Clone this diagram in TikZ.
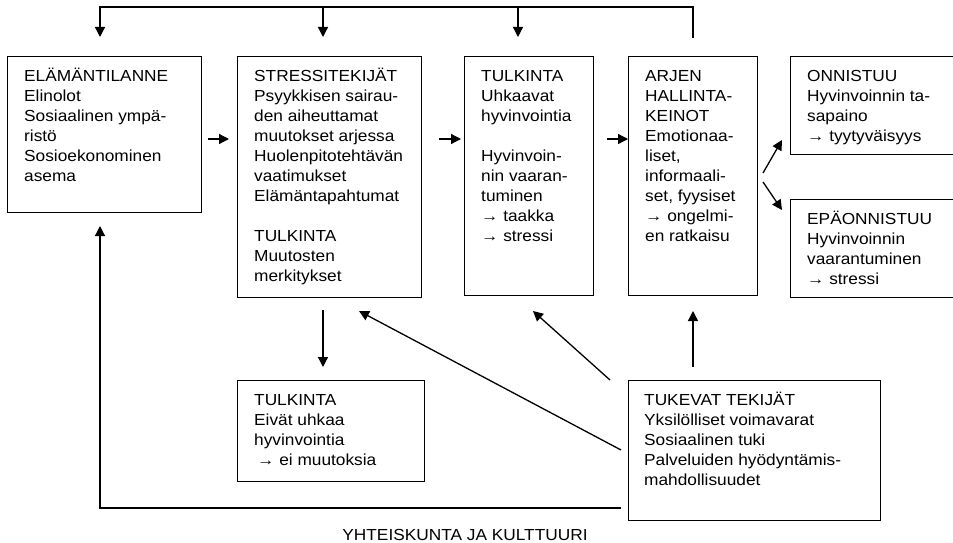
\documentclass[tikz,border=0pt]{standalone}
\usepackage{fontspec}
\setmainfont{Liberation Sans}[FakeStretch=1.08]
\usetikzlibrary{arrows.meta}
\begin{document}
\begin{tikzpicture}[x=1pt,y=-1pt,
  box/.style={draw, line width=1.3pt, inner sep=0pt, anchor=north west},
  txt/.style={anchor=north west, inner sep=0pt, align=left, font=\fontsize{16}{20}\selectfont},
  arr/.style={line width=1.3pt, -{Triangle[length=10pt,width=10pt]}},
  ln/.style={line width=1.3pt}]
\newcommand{\fl}{\rule{0pt}{16pt}}
\useasboundingbox (0,0) rectangle (953,543);

% boxes
\node[box, minimum width=194pt, minimum height=156pt] (b1) at (7,56) {};
\node[box, minimum width=184pt, minimum height=241pt] (b2) at (237,56) {};
\node[box, minimum width=129pt, minimum height=239pt] (b3) at (464,56) {};
\node[box, minimum width=129pt, minimum height=239pt] (b4) at (628,56) {};
\node[box, minimum width=163pt, minimum height=98pt] (b5) at (790,56) {};
\node[box, minimum width=163pt, minimum height=98pt] (b6) at (790,199) {};
\node[box, minimum width=187pt, minimum height=101pt] (b7) at (237,380) {};
\node[box, minimum width=252pt, minimum height=140pt] (b8) at (628,380) {};

% texts
\node[txt] (t1) at ([shift={(17,9)}]b1.north west) {\fl ELÄMÄNTILANNE\\Elinolot\\Sosiaalinen ympä-\\ristö\\Sosioekonominen\\asema};
\node[txt] (t2) at ([shift={(17,9)}]b2.north west) {\fl STRESSITEKIJÄT\\Psyykkisen sairau-\\den aiheuttamat\\muutokset arjessa\\Huolenpitotehtävän\\vaatimukset\\Elämäntapahtumat\\[20pt]TULKINTA\\Muutosten\\merkitykset};
\node[txt] (t3) at ([shift={(17,9)}]b3.north west) {\fl TULKINTA\\Uhkaavat\\hyvinvointia\\[20pt]Hyvinvoin-\\nin vaaran-\\tuminen\\→ taakka\\→ stressi};
\node[txt] (t4) at ([shift={(17,9)}]b4.north west) {\fl ARJEN\\HALLINTA-\\KEINOT\\Emotionaa-\\liset,\\informaali-\\set, fyysiset\\→ ongelmi-\\en ratkaisu};
\node[txt] (t5) at ([shift={(17,9)}]b5.north west) {\fl ONNISTUU\\Hyvinvoinnin ta-\\sapaino\\→ tyytyväisyys};
\node[txt] (t6) at ([shift={(17,9)}]b6.north west) {\fl EPÄONNISTUU\\Hyvinvoinnin\\vaarantuminen\\→ stressi};
\node[txt] (t7) at ([shift={(17,9)}]b7.north west) {\fl TULKINTA\\Eivät uhkaa\\hyvinvointia\\\hspace*{3pt}→ ei muutoksia};
\node[txt] (t8) at ([shift={(16,9)}]b8.north west) {\fl TUKEVAT TEKIJÄT\\Yksilölliset voimavarat\\Sosiaalinen tuki\\Palveluiden hyödyntämis-\\mahdollisuudet};

\node[font=\fontsize{16}{20}\selectfont, anchor=base] (yk) at (465,540) {YHTEISKUNTA JA KULTTUURI};

% top feedback loop
\coordinate (p4) at (693,38);
\coordinate (tR) at (693,7);
\coordinate (tL) at (100,7);
\coordinate (e1) at (100,37);
\coordinate (s2) at (323,7);
\coordinate (e2) at (323,37);
\coordinate (s3) at (518,7);
\coordinate (e3) at (518,37);
\draw[arr] (p4) -- (tR) -- (tL) -- (e1);
\draw[arr] (s2) -- (e2);
\draw[arr] (s3) -- (e3);

% horizontal arrows
\coordinate (h1s) at (208,139); \coordinate (h1e) at (229,139);
\coordinate (h2s) at (439,139); \coordinate (h2e) at (461,139);
\coordinate (h3s) at (607,139);
\draw[arr] (h1s) -- (h1e);
\draw[arr] (h2s) -- (h2e);
\draw[arr] (h3s) -- (b4.west |- h3s);

% to outcome boxes
\coordinate (d1s) at (763,173); \coordinate (d1e) at (782,140);
\coordinate (d2s) at (763,182); \coordinate (d2e) at (782,210);
\draw[arr] (d1s) -- (d1e);
\draw[arr] (d2s) -- (d2e);

% down to b7
\coordinate (v1s) at (323,310); \coordinate (v1e) at (323,367);
\draw[arr] (v1s) -- (v1e);

% supporting factors
\coordinate (u1s) at (693,367); \coordinate (u1e) at (693,311);
\draw[arr] (u1s) -- (u1e);
\coordinate (u2s) at (610,380); \coordinate (u2e) at (533,311);
\draw[arr] (u2s) -- (u2e);
\coordinate (u3s) at (621,450); \coordinate (u3e) at (359,311);
\draw[arr] (u3s) -- (u3e);

% bottom loop
\coordinate (l1) at (621,508);
\coordinate (l2) at (100,508);
\coordinate (l3) at (100,226);
\draw[arr] (l1) -- (l2) -- (l3);
\end{tikzpicture}
\end{document}
